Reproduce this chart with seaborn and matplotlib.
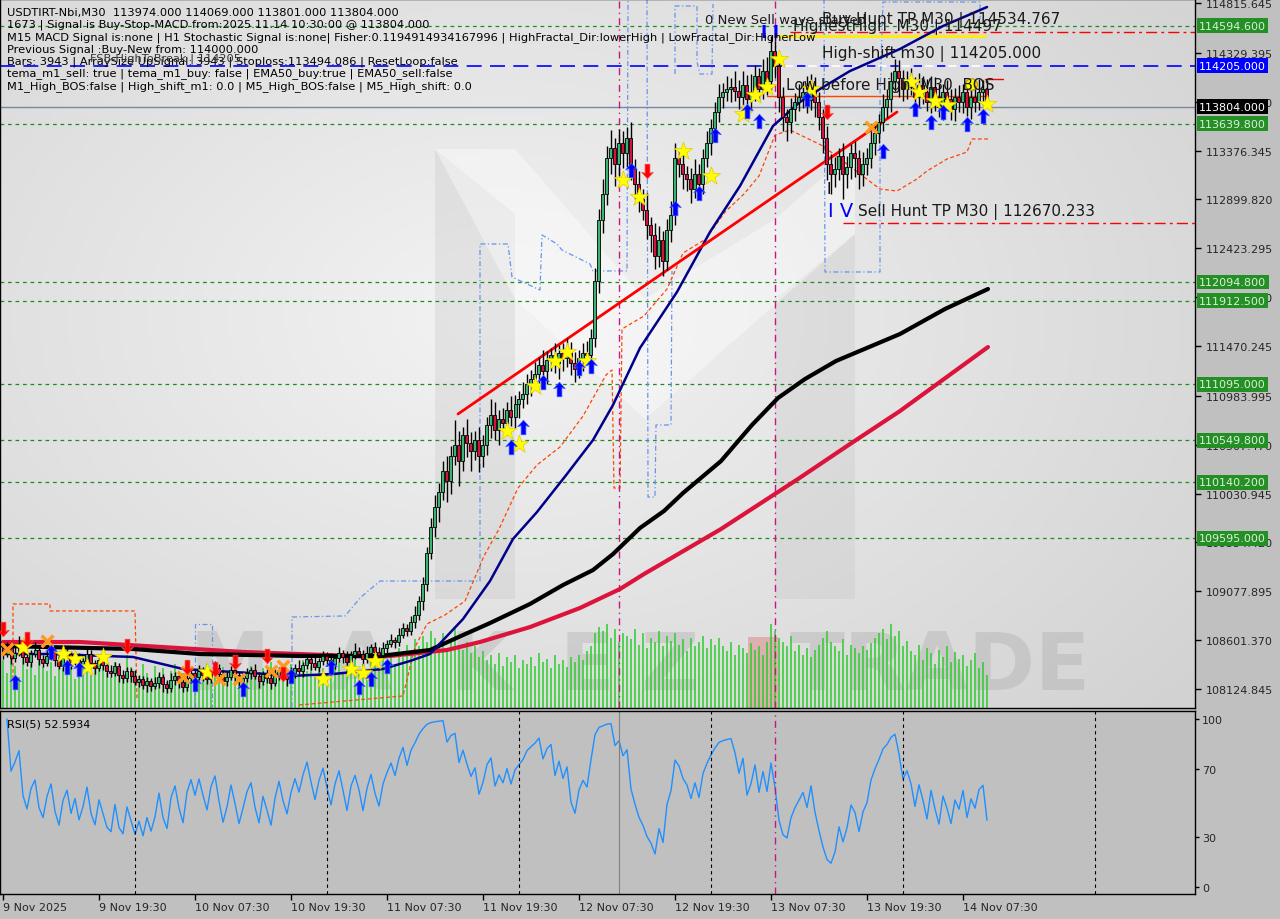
import numpy as np
import pandas as pd
import matplotlib
matplotlib.use("Agg")
import matplotlib.pyplot as plt
import matplotlib.transforms as mtransforms
from matplotlib.colors import LinearSegmentedColormap
from matplotlib.path import Path
import seaborn as sns

# ---------------- data (USDTIRT-Nbi, M30) ----------------
first_open = 108520
closes = [
    108470, 108520, 108430, 108480, 108560, 108440, 108390, 108470, 108510, 108420, 108380, 108450,
    108500, 108410, 108350, 108430, 108470, 108390, 108440, 108360, 108400, 108470, 108380, 108330,
    108410, 108360, 108300, 108280, 108350, 108260, 108230, 108300, 108250, 108190, 108220, 108160,
    108200, 108150, 108180, 108240, 108170, 108130, 108210, 108250, 108190, 108140, 108230, 108280,
    108240, 108300, 108260, 108220, 108290, 108330, 108270, 108200, 108240, 108310, 108260, 108190,
    108230, 108280, 108310, 108250, 108200, 108270, 108230, 108180, 108250, 108310, 108260, 108220,
    108280, 108330, 108300, 108360, 108420, 108380, 108340, 108400, 108450, 108410, 108370, 108430,
    108480, 108440, 108390, 108460, 108500, 108470, 108420, 108480, 108530, 108490, 108460, 108520,
    108560, 108600, 108580, 108650, 108720, 108690, 108780, 108850, 108980, 109150, 109450, 109700,
    109900, 110050, 110250, 110150, 110400, 110500, 110350, 110600, 110520, 110450, 110550, 110400,
    110500, 110700, 110800, 110650, 110760, 110720, 110850, 110780, 110900, 110950, 111000, 111100,
    111150, 111200, 111280, 111230, 111330, 111380, 111300, 111400, 111350, 111420, 111300, 111250,
    111350, 111400, 111380, 111550, 112100, 112700, 112950, 113300, 113400, 113250, 113450, 113350,
    113500, 113200, 113050, 112900, 112800, 112650, 112550, 112350, 112500, 112300, 112600, 112750,
    113300, 113250, 113150, 113100, 113000, 113150, 113050, 113300, 113450, 113600, 113750, 113900,
    113950, 113980, 114000, 113960, 113900, 114020, 113880, 113950, 114100, 113980, 114150, 114050,
    114350, 114200, 113900, 113700, 113650, 113780, 113850, 113900, 113950, 113870, 114000, 113850,
    113700, 113500, 113250, 113150, 113200, 113320, 113150, 113220, 113350, 113300, 113150, 113250,
    113300, 113450, 113550, 113650, 113800, 113880, 114050, 114150, 114080, 113980, 114050, 114000,
    113900, 114020, 113950, 113850, 114000, 113900, 113800, 113950, 113880, 113780, 113900, 113850,
    113950, 113800, 113900, 113850, 113950, 113974, 113804,
]
wick_up = [
    40, 60, 30, 50, 80, 30, 50, 40, 70, 30, 40, 60,
    50, 30, 60, 40, 70, 30, 50, 40, 30, 60, 40, 30,
    50, 40, 30, 60, 40, 30, 50, 40, 30, 60, 40, 30,
    40, 30, 60, 50, 30, 40, 70, 40, 30, 50, 60, 40,
    30, 60, 40, 50, 30, 70, 40, 30, 50, 40, 60, 30,
    40, 50, 30, 60, 40, 30, 50, 40, 70, 30, 40, 50,
    60, 40, 80, 30, 50, 40, 60, 30, 50, 40, 70, 40,
    50, 30, 60, 40, 70, 30, 40, 60, 30, 50, 40, 60,
    40, 60, 30, 70, 50, 40, 60, 80, 50, 70, 60, 90,
    120, 80, 100, 150, 90, 250, 140, 80, 160, 110, 90, 130,
    100, 80, 150, 120, 90, 110, 70, 130, 90, 80, 120, 100,
    90, 110, 80, 150, 90, 70, 120, 80, 100, 130, 90, 110,
    80, 100, 120, 90, 130, 110, 150, 120, 180, 100, 140, 120,
    110, 150, 90, 130, 100, 160, 80, 120, 140, 90, 110, 130,
    150, 90, 120, 80, 110, 140, 100, 90, 120, 80, 100, 130,
    90, 120, 80, 150, 100, 130, 90, 170, 110, 80, 120, 140,
    147, 90, 120, 100, 80, 110, 90, 130, 100, 150, 120, 90,
    100, 80, 120, 90, 110, 80, 130, 100, 90, 120, 80, 110,
    100, 120, 90, 80, 130, 100, 90, 120, 110, 80, 100, 130,
    90, 110, 80, 120, 100, 90, 130, 80, 110, 100, 90, 120,
    80, 110, 90, 100, 120, 90, 95,
]
wick_dn = [
    50, 30, 60, 40, 30, 70, 40, 50, 30, 60, 40, 30,
    40, 60, 30, 50, 40, 70, 30, 60, 40, 30, 50, 60,
    30, 50, 60, 40, 30, 70, 50, 40, 60, 30, 50, 40,
    60, 40, 30, 50, 70, 40, 30, 50, 60, 40, 30, 50,
    40, 30, 60, 50, 40, 30, 70, 40, 50, 30, 60, 40,
    50, 40, 60, 30, 70, 40, 50, 60, 30, 40, 50, 70,
    40, 50, 30, 60, 40, 70, 30, 50, 40, 60, 30, 50,
    40, 60, 30, 50, 40, 30, 70, 40, 50, 30, 60, 40,
    50, 30, 60, 40, 30, 50, 40, 60, 50, 80, 70, 60,
    90, 150, 80, 200, 120, 90, 250, 100, 130, 200, 90, 160,
    110, 90, 130, 100, 150, 80, 120, 90, 110, 130, 80, 100,
    120, 90, 110, 80, 130, 100, 90, 150, 120, 80, 110, 130,
    90, 120, 100, 80, 90, 110, 130, 100, 150, 220, 120, 140,
    130, 110, 150, 120, 100, 140, 160, 130, 110, 150, 90, 120,
    100, 130, 150, 120, 140, 90, 110, 100, 80, 120, 90, 100,
    110, 90, 130, 100, 120, 80, 140, 110, 90, 120, 100, 130,
    80, 120, 150, 130, 180, 100, 120, 90, 110, 130, 100, 150,
    120, 150, 160, 200, 130, 110, 250, 140, 120, 180, 150, 120,
    110, 90, 120, 100, 80, 110, 130, 90, 180, 120, 100, 80,
    130, 100, 120, 90, 110, 140, 100, 130, 90, 110, 120, 100,
    110, 90, 120, 100, 80, 130, 3,
]
volumes = [
    55, 40, 62, 48, 35, 58, 44, 50, 38, 60, 47, 42,
    52, 36, 58, 45, 40, 55, 33, 48, 60, 42, 38, 50,
    45, 57, 40, 35, 52, 44, 38, 60, 47, 42, 36, 50,
    40, 32, 48, 38, 45, 30, 42, 50, 35, 40, 46, 38,
    33, 44, 38, 50, 36, 42, 30, 47, 40, 35, 45, 38,
    42, 36, 48, 40, 33, 45, 38, 52, 42, 36, 47, 40,
    50, 44, 38, 55, 42, 48, 36, 52, 45, 40, 58, 47,
    52, 40, 60, 46, 55, 42, 50, 38, 57, 48, 44, 62,
    55, 62, 50, 68, 58, 72, 65, 78, 70, 82, 75, 88,
    80, 72, 85, 68, 78, 90, 70, 66, 75, 62, 70, 58,
    65, 55, 60, 50, 62, 48, 58, 52, 60, 45, 55, 50,
    58, 48, 62, 52, 56, 45, 60, 50, 54, 47, 58, 52,
    60, 55, 65, 70, 85, 92, 88, 95, 80, 90, 75, 85,
    82, 78, 90, 72, 85, 68, 80, 75, 88, 70, 82, 76,
    85, 72, 78, 65, 80, 70, 75, 82, 68, 78, 72, 80,
    70, 65, 75, 60, 72, 68, 62, 74, 66, 70, 60, 75,
    95, 88, 80, 75, 70, 82, 65, 72, 60, 68, 58, 66,
    72, 80, 88, 75, 70, 65, 78, 60, 72, 68, 62, 70,
    66, 74, 80, 85, 90, 78, 95, 82, 88, 70, 76, 65,
    60, 72, 55, 68, 62, 50, 66, 58, 70, 52, 64, 56,
    60, 48, 55, 62, 45, 52, 38,
]

# moving-average style lines (bar index, price)
navy_bars = [0, 12, 32.5, 45, 66, 71.75, 82.5, 95, 101.75, 106.75, 115, 121.75, 127.5, 133.5, 141, 147.5,
             152.5, 159.25, 168.5, 176.75, 184.25, 192.5, 199.25, 204.25, 211.75, 224.25, 235, 246]
navy_vals = [108466, 108466, 108437, 108320, 108271, 108252, 108271, 108320, 108398, 108466, 108807, 109178,
             109588, 109851, 110222, 110553, 110895, 111451, 111997, 112582, 113031, 113616, 113850, 113977,
             114152, 114367, 114591, 114776]
black_bars = [0, 32.5, 49.25, 74.25, 94.25, 106.75, 115, 121.75, 131.75, 140, 147.5, 152.5, 159.25, 165.25,
              170, 179.5, 187.25, 193.75, 200.5, 208.25, 224.25, 235.5, 246.25]
black_vals = [108544, 108515, 108466, 108447, 108447, 108505, 108651, 108768, 108954, 109139, 109285, 109441,
              109695, 109861, 110036, 110348, 110700, 110963, 111148, 111324, 111587, 111831, 112026]
crimson_bars = [0, 19.25, 60, 94.25, 111, 119.25, 131.75, 144.25, 154.25, 160.25, 179.5, 198.75, 211.75,
                224.25, 246.25]
crimson_vals = [108583, 108583, 108486, 108437, 108505, 108583, 108729, 108915, 109100, 109246, 109685, 110173,
                110514, 110836, 111460]

trend_bars = [113.75, 223.5]
trend_vals = [110807, 113752]

orange_bars = [74, 100, 103, 106, 110.5, 115.5, 120.25, 124, 128.75, 133.5, 139.25, 145, 150.75, 152.25, 152.75,
               154.25, 154.75, 160.25, 166, 170, 175.75, 180.5, 185.25, 189, 193, 196.75, 205, 219.25, 223.5,
               228.5, 231, 236, 241, 242.25, 246.25]
orange_vals = [107969, 108057, 108534, 108759, 108847, 108983, 109422, 109685, 110085, 110310, 110485, 110787, 111187,
               111236, 110085, 110085, 111636, 111763, 112026, 112377, 112514, 112777, 112953, 113128, 113528, 113577,
               113421, 113001, 112982, 113099, 113177, 113294, 113362, 113489, 113489]
orange2_bars = [2.5, 2.5, 11.75, 11.75, 33, 33.5]
orange2_vals = [108222, 108954, 108954, 108886, 108886, 108027]

fractal_lines = [
    ([48, 48, 52.25, 52.25], [107949, 108759, 108759, 107949]),
    ([72.25, 72.25, 85.5, 89.5, 94.25, 119.25, 119.25, 126.25, 127.25, 134.25, 134.75, 138.5, 139.75, 146.75,
      147.5, 156, 156.25],
     [107949, 108827, 108837, 109022, 109178, 109178, 112465, 112465, 112143, 112016, 112553, 112465, 112406,
      112270, 112202, 112202, 114854]),
    ([161, 161.25, 163, 163.25, 167, 167.25], [114854, 109997, 109997, 110700, 110700, 112202]),
    ([168, 168, 173.5, 173.5, 174.25, 177.25, 177.5], [114123, 114786, 114786, 114240, 114123, 114123, 114806]),
    ([205.25, 205.5, 219.25, 219.25, 220, 244.25, 244.25], [114854, 112192, 112192, 113928, 114825, 114825, 114659]),
]

# levels
green_levels = [114594.6, 113639.8, 112094.8, 111912.5, 111095.0, 110549.8, 110140.2, 109595.0]
high_shift = 114205.0
bid_price = 113804.0
buy_tp = 114534.767
sell_tp = 112670.233
highest_high = 114497.0
low_before_high = 113910.0

# signals
up_bars = [3, 12, 16, 19, 48, 60, 72, 82, 89, 92, 96, 127, 130, 135, 139, 144, 147, 157, 168, 174,
           178, 186, 189, 201, 220, 228, 232, 235, 241, 245]
up_prices = [108193, 108486, 108339, 108320, 108174, 108125, 108252, 108339, 108144, 108222, 108349, 110485,
             110680, 111119, 111051, 111256, 111275, 113187, 112816, 112962, 113528, 113762, 113665, 113879,
             113372, 113782, 113655, 113752, 113635, 113713]
down_bars = [0, 6, 31, 46, 53, 58, 66, 70, 161, 206]
down_prices = [108710, 108612, 108544, 108339, 108320, 108388, 108447, 108271, 113177, 113752]
star_bars = [5, 15, 18, 21, 25, 51, 80, 87, 90, 93, 126, 129, 133, 138, 141, 146, 155, 159, 170, 177,
             185, 188, 191, 194, 202, 227, 229, 233, 236, 246]
star_prices = [108534, 108466, 108417, 108339, 108437, 108291, 108222, 108320, 108281, 108398, 110641, 110514,
               111080, 111324, 111412, 111324, 113090, 112923, 113372, 113128, 113733, 113918, 113996, 114270,
               113977, 114045, 113947, 113860, 113821, 113830]
cross_bars = [1, 11, 45, 46, 54, 59, 67, 70, 217]
cross_prices = [108515, 108593, 108242, 108291, 108222, 108222, 108300, 108349, 113606]
circle_bar, circle_price = 242, 114026

price_ticks = [114815.645, 114329.395, 113852.870, 113376.345, 112899.820, 112423.295, 111946.770, 111470.245,
               110983.995, 110507.470, 110030.945, 109554.420, 109077.895, 108601.370, 108124.845]
time_ticks = [0, 24, 48, 72, 96, 120, 144, 168, 192, 216, 240]
time_labels = ["9 Nov 2025", "9 Nov 19:30", "10 Nov 07:30", "10 Nov 19:30", "11 Nov 07:30", "11 Nov 19:30",
               "12 Nov 07:30", "12 Nov 19:30", "13 Nov 07:30", "13 Nov 19:30", "14 Nov 07:30"]
day_breaks = [33, 81, 129, 177, 225, 273]
marker_lines = [154, 193]

info_lines = [
    "USDTIRT-Nbi,M30  113974.000 114069.000 113801.000 113804.000",
    "1673 | Signal is Buy-Stop-MACD from:2025.11.14 10:30:00 @ 113804.000",
    "M15 MACD Signal is:none | H1 Stochastic Signal is:none| Fisher:0.1194914934167996 | "
    "HighFractal_Dir:lowerHigh | LowFractal_Dir:HigherLow",
    "Previous Signal :Buy-New from: 114000.000",
    "Bars: 3943 | ArraySize UpSignal: 3943 | Stoploss:113494.086 | ResetLoop:false",
    "tema_m1_sell: true | tema_m1_buy: false | EMA50_buy:true | EMA50_sell:false",
    "M1_High_BOS:false | High_shift_m1: 0.0 | M5_High_BOS:false | M5_High_shift: 0.0",
]

# ---------------- prepare ----------------
sns.set_theme(style="white")
plt.rcParams["font.family"] = ["DejaVu Sans"]

n = len(closes)
bars = np.arange(n)
close = pd.Series(closes, dtype=float)
open_ = close.shift(1)
open_.iloc[0] = first_open
high = np.maximum(open_, close) + np.array(wick_up)
low = np.minimum(open_, close) - np.array(wick_dn)

# RSI(5), Wilder smoothing
delta = close.diff()
gain = delta.clip(lower=0).ewm(alpha=1 / 5, adjust=False).mean()
loss = (-delta.clip(upper=0)).ewm(alpha=1 / 5, adjust=False).mean()
rsi = 100 - 100 / (1 + gain / loss)

W, H = 1280, 920
fig = plt.figure(figsize=(12.8, 9.2), dpi=100, facecolor="#c0c0c0")
rect_main = [0, 1 - 709 / H, 1195 / W, 709 / H]
ax_bg = fig.add_axes(rect_main)
ax_vol = fig.add_axes(rect_main)
ax = fig.add_axes(rect_main)
rsi_ax = fig.add_axes([0, 1 - 895 / H, 1195 / W, 183 / H])

XMIN, XMAX = -0.75, 298
YMIN, YMAX = 107939.5, 114854.4

# background gradient + watermark (pixel space)
yy, xx = np.mgrid[0:1:200j, 0:1:300j]
d = np.sqrt(((xx - 0.42) / 0.75) ** 2 + ((yy - 0.45) / 0.85) ** 2)
grad = 1 - np.clip(d, 0, 1)
bg_cmap = LinearSegmentedColormap.from_list("bg", ["#d2d2d2", "#f3f3f3"])
ax_bg.imshow(grad, extent=[0, 1195, 709, 0], cmap=bg_cmap, aspect="auto", zorder=0)
ax_bg.set_xlim(0, 1195)
ax_bg.set_ylim(709, 0)
ax_bg.fill([435, 515, 515, 435], [150, 215, 600, 600], color="#c4c4c4", alpha=0.3, lw=0)
ax_bg.fill([775, 855, 855, 775], [300, 235, 600, 600], color="#c4c4c4", alpha=0.3, lw=0)
ax_bg.fill([435, 515, 645, 775, 855, 855, 645, 515], [150, 150, 300, 220, 150, 235, 420, 300],
           color="white", alpha=0.4, lw=0)
for ch, px in zip("MAKEZ", [190, 330, 450, 560, 640]):
    ax_bg.text(px, 707, ch, fontsize=58, fontweight="bold", color="#a8a8a8", alpha=0.35, va="bottom")
ax_bg.fill([748, 778, 778, 748], [638, 638, 709, 709], color="#e08080", alpha=0.5, lw=0)
ax_bg.text(790, 707, "TRADE", fontsize=58, fontweight="bold", color="#a8a8a8", alpha=0.35, va="bottom")
ax_bg.axis("off")

# volumes
ax_vol.vlines(bars, 0, volumes, color="#2ecc2e", lw=1.1)
ax_vol.set_xlim(XMIN, XMAX)
ax_vol.set_ylim(0, 100 * 709 / 88)
ax_vol.axis("off")
ax_vol.patch.set_visible(False)

# ---------------- price panel ----------------
ax.patch.set_visible(False)
ax.set_xlim(XMIN, XMAX)
ax.set_ylim(YMIN, YMAX)

for lv in green_levels:
    ax.axhline(lv, color="#1e8c1e", lw=0.9, dashes=(3, 3), zorder=1)
ax.axhline(high_shift, color="#0000ff", lw=1.2, dashes=(9, 5), zorder=1)
ax.plot([194.75, 245.5], [high_shift, high_shift], color="white", lw=1.2, dashes=(9, 5), zorder=1.5)
ax.axhline(bid_price, color="#7a8a9a", lw=1, zorder=1)
ax.plot([196.75, XMAX], [buy_tp, buy_tp], color="#ff0000", lw=1, dashes=(8, 3, 2, 3), zorder=1)
ax.plot([210, XMAX], [sell_tp, sell_tp], color="#ff0000", lw=1, dashes=(8, 3, 2, 3), zorder=1)
ax.plot([193.75, 245.5], [highest_high, highest_high], color="#ffee00", lw=2, zorder=2)
ax.plot([191, 246], [low_before_high, low_before_high], color="#ff4500", lw=1, zorder=2)
ax.plot([245.5, 250], [114075, 114075], color="#ff0000", lw=1, zorder=2)

for xs, ys in fractal_lines:
    ax.plot(xs, ys, color="#6495ed", lw=0.9, dashes=(4, 2, 1, 2), zorder=1.5)
ax.plot(orange_bars, orange_vals, color="#ff4500", lw=0.9, dashes=(3, 2), zorder=1.5)
ax.plot(orange2_bars, orange2_vals, color="#ff4500", lw=0.9, dashes=(3, 2), zorder=1.5)

for mb in marker_lines:
    ax.axvline(mb, color="#c71585", lw=1, dashes=(5, 3, 1, 3), zorder=1.5)

sns.lineplot(x=crimson_bars, y=crimson_vals, ax=ax, color="#dc143c", lw=3, estimator=None, sort=False, zorder=2)
sns.lineplot(x=black_bars, y=black_vals, ax=ax, color="black", lw=3, estimator=None, sort=False, zorder=2.1)
sns.lineplot(x=navy_bars, y=navy_vals, ax=ax, color="#00008b", lw=1.8, estimator=None, sort=False, zorder=2.2)
ax.plot(trend_bars, trend_vals, color="#ff0000", lw=2, zorder=2.3)

# candles
bull = (close >= open_).values
body_lo = np.minimum(open_, close).values
body_h = np.maximum(np.abs(close - open_).values, 8)
ax.vlines(bars, low, high, color="black", lw=1, zorder=3)
ax.bar(bars[bull], body_h[bull], bottom=body_lo[bull], width=0.75, color="#3cb371",
       edgecolor="black", lw=0.6, zorder=4)
ax.bar(bars[~bull], body_h[~bull], bottom=body_lo[~bull], width=0.75, color="#d2143c",
       edgecolor="black", lw=0.6, zorder=4)

# signal markers
arrow_up = Path([(0, 1), (0.8, 0.1), (0.33, 0.25), (0.33, -1), (-0.33, -1), (-0.33, 0.25), (-0.8, 0.1), (0, 1)],
                [Path.MOVETO] + [Path.LINETO] * 6 + [Path.CLOSEPOLY])
arrow_dn = Path([(x, -y) for x, y in arrow_up.vertices], arrow_up.codes)
ax.scatter(star_bars, star_prices, marker="*", s=190, color="#ffff00", edgecolor="#e6c800", lw=0.5, zorder=6)
ax.scatter(up_bars, up_prices, marker=arrow_up, s=110, color="#0000ff", edgecolor="#4060ff", lw=0.5, zorder=7)
ax.scatter(down_bars, down_prices, marker=arrow_dn, s=110, color="#ff0000", edgecolor="#ff4040", lw=0.5, zorder=7)
ax.scatter(cross_bars, cross_prices, marker="x", s=70, color="#ff9a1a", lw=2.5, zorder=6)
ax.scatter([circle_bar], [circle_price], marker="o", s=70, color="#ffff00", edgecolor="#c8a000", lw=1, zorder=6)

# annotations
tc = "#1a1a1a"
ax.text(175.5, 114659, "0 New Sell wave started", fontsize=9.5, color=tc, va="center", zorder=8)
ax.text(197.5, 114590, "HighestHigh  M30 | 114497", fontsize=11, color=tc, va="center", zorder=8)
ax.text(204.75, 114659, "Buy Hunt TP M30 | 114534.767", fontsize=11, color=tc, va="center", zorder=8)
ax.text(204.75, 114330, "High-shift m30 | 114205.000", fontsize=11, color=tc, va="center", zorder=8)
ax.text(195.75, 114025, "Low before High  M30  BOS", fontsize=11, color=tc, va="center", zorder=8)
ax.text(213.75, 112787, "Sell Hunt TP M30 | 112670.233", fontsize=11, color=tc, va="center", zorder=8)
ax.text(206.25, 112787, "I V", fontsize=14, color="#0000ff", va="center", zorder=8)
ax.text(206.0, 113010, "I", fontsize=11, color="black", va="center", zorder=8)
ax.text(189.5, 114530, "I I", fontsize=12, color="#0000ff", fontweight="bold", va="center", zorder=8)

for i, line in enumerate(info_lines):
    fig.text(7 / W, 1 - (13 + 12.2 * i) / H, line, fontsize=8.2, color="black", va="center")
fig.text(90 / W, 1 - 59 / H, "FSB-HighToBreak | 114205", fontsize=8.2, color="#333333", va="center")

# right price axis
ax.yaxis.tick_right()
ax.set_yticks(price_ticks)
ax.set_yticklabels([f"{p:.3f}" for p in price_ticks], fontsize=8)
ax.tick_params(axis="y", length=4, width=1, color="black", direction="out", pad=4, right=True)
ax.set_xticks([])
for s in ax.spines.values():
    s.set_color("black")
    s.set_linewidth(1)

label_tr = mtransforms.blended_transform_factory(fig.transFigure, ax.transData)
boxes = [(lv, "#248f24", "#d8f0d8") for lv in green_levels]
boxes += [(high_shift, "#0000ff", "white"), (bid_price, "black", "white")]
for lv, fc, txc in boxes:
    ax.text(1199 / W, lv, f"{lv:.3f}", transform=label_tr, fontsize=8, color=txc, va="center", ha="left",
            bbox=dict(boxstyle="square,pad=0.22", fc=fc, ec="none"), clip_on=False, zorder=10)

# ---------------- RSI panel ----------------
rsi_ax.set_facecolor("#c0c0c0")
sns.lineplot(x=bars, y=rsi.values, ax=rsi_ax, color="#1e90ff", lw=1, estimator=None)
for b in day_breaks:
    rsi_ax.axvline(b, color="black", lw=0.8, dashes=(3, 3))
rsi_ax.axvline(marker_lines[0], color="#808080", lw=0.8)
rsi_ax.axvline(marker_lines[1], color="#c71585", lw=1, dashes=(5, 3, 1, 3))
rsi_ax.set_xlim(XMIN, XMAX)
rsi_ax.set_ylim(-4.17, 104.76)
rsi_ax.yaxis.tick_right()
rsi_ax.set_yticks([0, 30, 70, 100])
rsi_ax.set_yticklabels(["0", "30", "70", "100"], fontsize=8)
rsi_ax.tick_params(axis="y", length=3, width=1, color="black", direction="out", pad=2, right=True)
rsi_ax.set_xticks(time_ticks)
rsi_ax.set_xticklabels(time_labels, fontsize=8, ha="left")
rsi_ax.tick_params(axis="x", length=4, width=1, color="black", direction="out", pad=2, bottom=True)
rsi_ax.set_xlabel("")
rsi_ax.set_ylabel("")
for s in rsi_ax.spines.values():
    s.set_color("black")
    s.set_linewidth(1)
rsi_ax.text(0.006, 0.93, "RSI(5) 52.5934", transform=rsi_ax.transAxes, fontsize=8, color="black", va="center")

fig.savefig("out.png", dpi=100, facecolor=fig.get_facecolor())
